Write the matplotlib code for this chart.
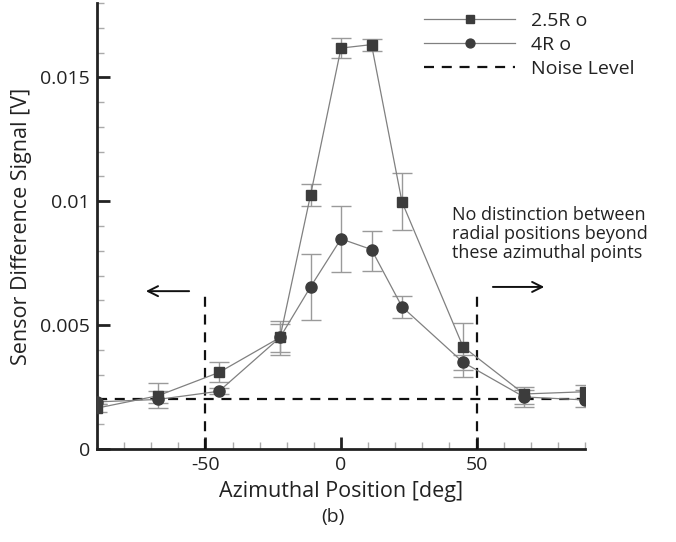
import matplotlib.pyplot as plt
from matplotlib.ticker import MultipleLocator, FixedLocator

plt.rcParams['font.family'] = ['Open Sans', 'DejaVu Sans']

# azimuthal positions [deg]
angle = [-90, -67.5, -45, -22.5, -11.25, 0, 11.25, 22.5, 45, 67.5, 90]

# 2.5Ro: mean signal and error bar limits
r25 = [0.00165, 0.00215, 0.00309, 0.00450, 0.01024, 0.01618, 0.01632, 0.00997, 0.00413, 0.00222, 0.00231]
r25_lo = [0.00150, 0.00185, 0.00270, 0.00390, 0.00980, 0.01578, 0.01608, 0.00882, 0.00320, 0.00180, 0.00205]
r25_hi = [0.00180, 0.00265, 0.00350, 0.00516, 0.01069, 0.01658, 0.01655, 0.01113, 0.00507, 0.00251, 0.00258]

# 4Ro
r4 = [0.00190, 0.00200, 0.00233, 0.00450, 0.00654, 0.00848, 0.00805, 0.00574, 0.00350, 0.00210, 0.00198]
r4_lo = [0.00180, 0.00167, 0.00220, 0.00378, 0.00519, 0.00714, 0.00718, 0.00529, 0.00289, 0.00170, 0.00170]
r4_hi = [0.00200, 0.00235, 0.00245, 0.00504, 0.00788, 0.00980, 0.00878, 0.00618, 0.00380, 0.00240, 0.00240]

noise_level = 0.002
cutoff = [-50, 50]

fig = plt.figure(figsize=(6.76, 5.42), dpi=100)
ax = fig.add_axes([0.1435, 0.1716, 0.7219, 0.8229])

err_kw = dict(ecolor='#9a9a9a', elinewidth=1.0, capsize=7, capthick=1.0)
ax.errorbar(angle, r25, yerr=[[m - l for m, l in zip(r25, r25_lo)], [h - m for m, h in zip(r25, r25_hi)]],
            fmt='none', zorder=2, **err_kw)
ax.errorbar(angle, r4, yerr=[[m - l for m, l in zip(r4, r4_lo)], [h - m for m, h in zip(r4, r4_hi)]],
            fmt='none', zorder=2, **err_kw)
ax.plot(angle, r25, color='#808080', lw=0.9, marker='s', ms=7.5,
        mfc='#3c3c3c', mec='#3c3c3c', label='2.5R o', zorder=4)
ax.plot(angle, r4, color='#808080', lw=0.9, marker='o', ms=8,
        mfc='#3c3c3c', mec='#3c3c3c', label='4R o', zorder=4)
dash = (0, (4.5, 3.5))
ax.plot([-90, 90], [noise_level, noise_level], color='#111111', lw=1.6,
        ls=dash, label='Noise Level', zorder=3, clip_on=False)

# vertical cut-off lines and arrows
for xc in cutoff:
    ax.plot([xc, xc], [0, 0.0062], color='#111111', lw=1.6, ls=dash, zorder=3)
ax.annotate('', xy=(-73, 0.00637), xytext=(-55, 0.00637),
            arrowprops=dict(arrowstyle='->', color='#111111', lw=1.4, mutation_scale=18))
ax.annotate('', xy=(76, 0.00654), xytext=(55, 0.00654),
            arrowprops=dict(arrowstyle='->', color='#111111', lw=1.4, mutation_scale=18))
ax.text(41, 0.0098, 'No distinction between\nradial positions beyond\nthese azimuthal points',
        fontsize=13, color='#222222', va='top', ha='left', linespacing=1.05)

ax.set_xlim(-90, 90)
ax.set_ylim(0, 0.018)
ax.xaxis.set_major_locator(FixedLocator([-50, 0, 50]))
ax.xaxis.set_minor_locator(MultipleLocator(10))
ax.yaxis.set_major_locator(FixedLocator([0, 0.005, 0.01, 0.015]))
ax.yaxis.set_minor_locator(MultipleLocator(0.001))
ax.set_yticklabels(['0', '0.005', '0.01', '0.015'])
ax.set_xticklabels(['-50', '0', '50'])

for s in ['top', 'right']:
    ax.spines[s].set_visible(False)
for s in ['left', 'bottom']:
    ax.spines[s].set_linewidth(2.0)
    ax.spines[s].set_color('#222222')
ax.tick_params(which='major', direction='in', length=9, width=2.0, color='#222222',
               labelsize=14, labelcolor='#222222', pad=5)
ax.tick_params(which='minor', direction='in', length=5, width=1.0, color='#aaaaaa')

ax.set_xlabel('Azimuthal Position [deg]', fontsize=15.5, color='#222222', labelpad=5)
ax.set_ylabel('Sensor Difference Signal [V]', fontsize=15.5, color='#222222', labelpad=6)

leg = ax.legend(loc='upper left', bbox_to_anchor=(424 / 676, 1 - 12 / 542),
                bbox_transform=fig.transFigure, frameon=False, fontsize=14,
                handlelength=4.7, handletextpad=0.8, labelspacing=0.3,
                borderaxespad=0, borderpad=0, markerscale=0.8)
for t in leg.get_texts():
    t.set_color('#222222')

fig.text(0.4926, 0.036, '(b)', ha='center', fontsize=14, color='#222222')

fig.savefig('out.png', dpi=100)
